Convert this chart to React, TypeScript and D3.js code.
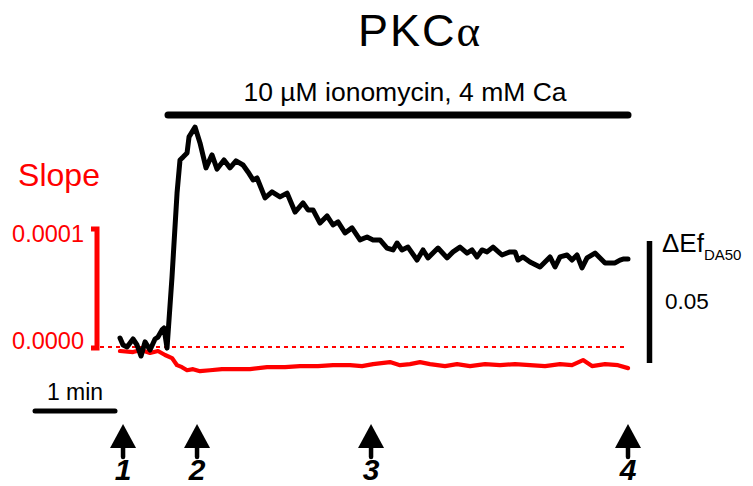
import React from "react";
import * as d3 from "d3";

// time in minutes, ΔEf_DA50 (black trace)
const blackTime = [0.000,0.038,0.088,0.163,0.213,0.263,0.313,0.375,0.438,0.475,0.525,0.550,0.588,0.650,0.713,0.750,0.788,0.838,0.863,0.938,1.000,1.075,1.150,1.213,1.300,1.375,1.450,1.538,1.600,1.663,1.713,1.813,1.900,2.000,2.088,2.188,2.288,2.350,2.413,2.500,2.588,2.663,2.725,2.813,2.900,3.000,3.088,3.163,3.250,3.338,3.413,3.463,3.525,3.600,3.713,3.788,3.850,3.975,4.088,4.163,4.250,4.338,4.400,4.463,4.525,4.588,4.663,4.775,4.875,4.938,4.975,5.038,5.125,5.250,5.375,5.438,5.500,5.588,5.650,5.713,5.775,5.838,5.938,6.063,6.188,6.250,6.288,6.350];
const blackValue = [0.0029,0.0000,-0.0008,0.0025,0.0000,-0.0046,0.0013,-0.0021,0.0025,0.0033,0.0063,0.0071,-0.0013,0.0283,0.0633,0.0771,0.0783,0.0800,0.0867,0.0908,0.0842,0.0738,0.0792,0.0733,0.0771,0.0738,0.0767,0.0750,0.0721,0.0688,0.0696,0.0613,0.0638,0.0617,0.0633,0.0554,0.0592,0.0563,0.0563,0.0508,0.0538,0.0500,0.0513,0.0467,0.0488,0.0438,0.0450,0.0438,0.0438,0.0404,0.0396,0.0425,0.0396,0.0408,0.0354,0.0396,0.0363,0.0404,0.0363,0.0388,0.0408,0.0383,0.0396,0.0367,0.0396,0.0388,0.0408,0.0375,0.0388,0.0388,0.0354,0.0367,0.0346,0.0325,0.0367,0.0325,0.0367,0.0375,0.0354,0.0375,0.0321,0.0363,0.0383,0.0342,0.0342,0.0354,0.0358,0.0358];

// time in minutes, slope (red trace), units of 1e-5
const redTime = [0.000,0.163,0.263,0.375,0.475,0.563,0.650,0.713,0.775,0.838,0.913,1.000,1.125,1.275,1.413,1.625,1.838,2.063,2.250,2.475,2.663,2.875,3.025,3.163,3.375,3.500,3.625,3.750,3.875,4.063,4.213,4.375,4.563,4.750,4.938,5.125,5.313,5.500,5.650,5.788,5.900,6.063,6.225,6.350];
const redValue1e5 = [-0.34,-0.43,-0.26,-0.51,-0.34,-0.68,-0.94,-1.54,-1.71,-1.97,-1.88,-2.05,-1.97,-1.88,-1.88,-1.88,-1.71,-1.71,-1.62,-1.62,-1.54,-1.54,-1.62,-1.45,-1.28,-1.54,-1.45,-1.28,-1.45,-1.62,-1.45,-1.62,-1.45,-1.54,-1.45,-1.54,-1.62,-1.45,-1.54,-1.11,-1.62,-1.45,-1.54,-1.79];

const arrowTimes = [0.038, 0.963, 3.138, 6.35];
const arrowLabels = ["1", "2", "3", "4"];
const ionomycinStart = 0.6;
const ionomycinEnd = 6.35;
const slopeTicks = [0, 0.0001];
const slopeTickLabels = ["0.0000", "0.0001"];
const dEfScaleValue = 0.05;

const FONT = "'Liberation Sans', Arial, sans-serif";

export default function App() {
  const W = 753, H = 486;
  const x = d3.scaleLinear().domain([0, 6.35]).range([120, 628]);
  const yB = d3.scaleLinear().domain([0, 0.05]).range([345, 225]);
  const yR = d3.scaleLinear().domain([0, 0.0001]).range([347, 229]);

  const blackData = blackTime.map((t, i) => [t, blackValue[i]] as [number, number]);
  const redData = redTime.map((t, i) => [t, redValue1e5[i] * 1e-5] as [number, number]);

  const lineB = d3.line<[number, number]>().x(d => x(d[0])).y(d => yB(d[1]));
  const lineR = d3.line<[number, number]>().x(d => x(d[0])).y(d => yR(d[1]));

  const minPx = x(1) - x(0);
  const dEfPx = yB(0) - yB(dEfScaleValue);
  const barTop = 241;

  return (
    <svg width={W} height={H} style={{ position: "absolute", left: 0, top: 0, background: "#fff" }} fontFamily={FONT}>
      {/* title */}
      <text x={420} y={46} textAnchor="middle" fontSize={45} letterSpacing={2} fill="#000">
        PKC<tspan fontFamily="'Liberation Serif', 'DejaVu Serif', serif">α</tspan>
      </text>
      <text x={405} y={101} textAnchor="middle" fontSize={26.5} fill="#000">10 µM ionomycin, 4 mM Ca</text>
      <line x1={x(ionomycinStart)} x2={x(ionomycinEnd)} y1={115} y2={115} stroke="#000" strokeWidth={7} strokeLinecap="round" />

      {/* slope axis */}
      <text x={59} y={186} textAnchor="middle" fontSize={32} fill="#ff0000">Slope</text>
      {slopeTicks.map((v, i) => (
        <text key={i} x={84} y={yR(v) + (i === 0 ? 2 : 13)} textAnchor="end" fontSize={23.5} fill="#ff0000">{slopeTickLabels[i]}</text>
      ))}
      <path d={`M91,${yR(0.0001)} H97 V${yR(0) + 1} H91`} fill="none" stroke="#ff0000" strokeWidth={5} />
      <line x1={100} x2={x(6.35)} y1={yR(0)} y2={yR(0)} stroke="#ff0000" strokeWidth={2.2} strokeDasharray="4,4" />

      {/* traces */}
      <path d={lineR(redData) || ""} fill="none" stroke="#ff0000" strokeWidth={4.2} strokeLinejoin="round" strokeLinecap="round" />
      <path d={lineB(blackData) || ""} fill="none" stroke="#000" strokeWidth={5} strokeLinejoin="round" strokeLinecap="round" />

      {/* ΔEf scale */}
      <line x1={649.5} x2={649.5} y1={barTop} y2={barTop + dEfPx + 2} stroke="#000" strokeWidth={5.5} />
      <text x={662} y={252} fontSize={26} fill="#000">ΔEf<tspan fontSize={15} dy={8}>DA50</tspan></text>
      <text x={665} y={309} fontSize={22.5} fill="#000">0.05</text>

      {/* time scale */}
      <text x={75} y={400} textAnchor="middle" fontSize={23} fill="#000">1 min</text>
      <line x1={35} x2={35 + minPx} y1={411} y2={411} stroke="#000" strokeWidth={5} strokeLinecap="round" />

      {/* arrows */}
      {arrowTimes.map((t, i) => {
        const ax = x(t);
        return (
          <g key={i}>
            <path d={`M${ax - 13},448 L${ax},424 L${ax + 13},448 Z`} fill="#000" />
            <line x1={ax} x2={ax} y1={446} y2={457} stroke="#000" strokeWidth={4.5} strokeLinecap="round" />
            <text x={ax} y={480} textAnchor="middle" fontSize={30} fontWeight="bold" fontStyle="italic" fill="#000">{arrowLabels[i]}</text>
          </g>
        );
      })}
    </svg>
  );
}
